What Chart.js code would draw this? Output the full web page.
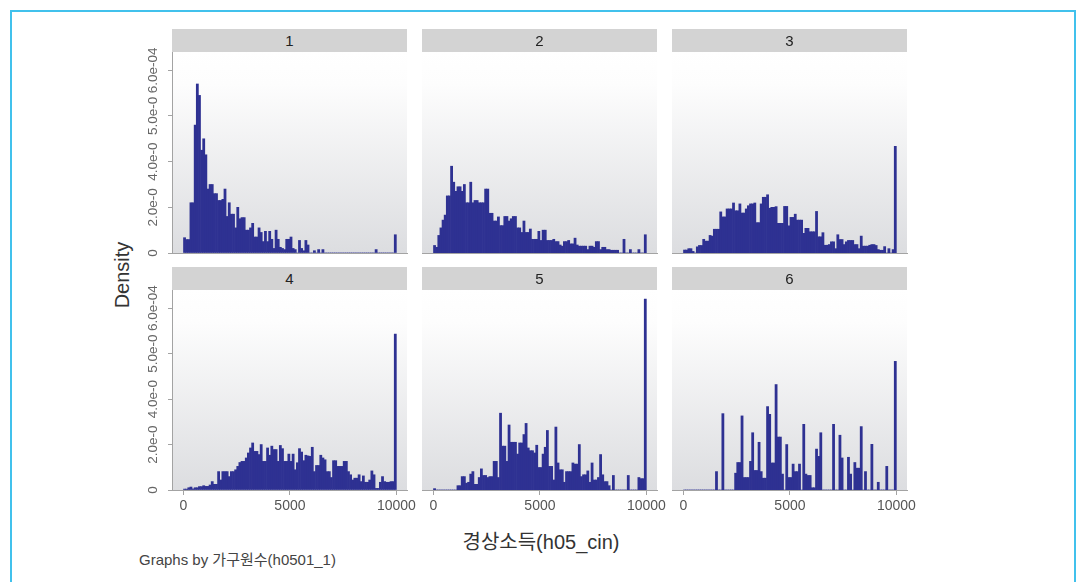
<!DOCTYPE html>
<html>
<head>
<meta charset="utf-8">
<script src="https://cdn.jsdelivr.net/npm/chart.js@4.4.1/dist/chart.umd.min.js"></script>
<style>
  body { margin: 0; background: #fff; width: 1077px; height: 582px; overflow: hidden; position: relative;
         font-family: "Liberation Sans", "Noto Sans CJK KR", sans-serif; }
  .frame { position: absolute; left: 10px; top: 10px; width: 1062px; height: 620px; border: 2px solid #41c1ec; }
  .strip { position: absolute; width: 235px; height: 23px; background: #d3d3d3; color: #222;
           font-size: 15px; line-height: 23px; text-align: center; }
  canvas { position: absolute; }
  .ytitle { position: absolute; left: 122px; top: 275px; transform: translate(-50%, -50%) rotate(-90deg);
            font-size: 20px; color: #333; white-space: nowrap; }
  .xtitle { position: absolute; left: 541px; top: 540px; transform: translate(-50%, -50%);
            font-size: 20px; color: #333; white-space: nowrap; }
  .note { position: absolute; left: 139px; top: 548px; font-size: 15px; color: #444; white-space: nowrap; }
</style>
</head>
<body>
<div class="frame"></div>
<div class="ytitle">Density</div>
<div class="xtitle">경상소득(h05_cin)</div>
<div class="note">Graphs by 가구원수(h0501_1)</div>

<canvas id="c1" width="298" height="227" style="left:130px;top:32px;width:298px;height:227px"></canvas>
<canvas id="c2" width="266" height="207" style="left:412px;top:52px;width:266px;height:207px"></canvas>
<canvas id="c3" width="266" height="207" style="left:662px;top:52px;width:266px;height:207px"></canvas>
<canvas id="c4" width="298" height="250" style="left:130px;top:270px;width:298px;height:250px"></canvas>
<canvas id="c5" width="266" height="230" style="left:412px;top:290px;width:266px;height:230px"></canvas>
<canvas id="c6" width="266" height="230" style="left:662px;top:290px;width:266px;height:230px"></canvas>

<script>
// 히스토그램 데이터 (density, 1e-4 단위), 구간 폭 100
const panelNames = ['1', '2', '3', '4', '5', '6'];
const binCenters = Array.from({ length: 100 }, (_, i) => 50 + 100 * i);
const xTicks = [0, 5000, 10000];
const xTickLabels = ['0', '5000', '10000'];
const yTicks = [0, 2, 4, 6, 8];
const yTickLabels = ['0', '2.0e-0', '4.0e-0', '5.0e-0', '6.0e-04'];

const panel1 = [0.67,0.59,0.59,2.2,2.2,5.6,7.4,6.9,4.5,5.0,
  4.3,2.8,3.0,3.0,2.6,2.6,2.3,2.3,2.35,2.8,
  1.6,2.2,1.7,1.7,1.1,2.0,1.5,1.55,1.55,1.0,
  1.0,1.1,1.3,0.7,0.7,1.1,0.9,0.5,0.95,0.5,
  0.95,0.6,0.2,1.0,0.6,0.25,0.2,0.15,0.6,0.6,
  0.7,0.2,0.15,0,0.55,0.2,0.1,0.55,0.35,0,
  0,0.1,0,0.15,0,0.15,0,0,0,0,
  0,0,0,0,0,0,0,0,0,0,
  0,0,0,0,0,0,0,0,0,0,
  0.15,0,0,0,0,0,0,0,0,0.8];
const panel2 = [0.33,0.25,0.77,1.1,1.44,1.66,2.5,2.5,3.8,3.1,
  2.7,2.9,2.9,2.7,3.0,2.2,2.2,3.1,2.2,2.3,
  2.3,2.2,2.2,2.2,2.8,2.8,1.74,1.74,1.4,1.4,
  1.58,1.2,1.2,1.6,1.6,1.4,1.5,1.6,1.6,1.1,
  1.1,0.9,1.4,0.9,0.9,1.05,0.6,0.6,0.6,0.95,
  0.55,1.0,1.0,0.55,0.55,0.55,0.6,0.5,0.5,0.35,
  0.3,0.5,0.5,0.55,0.4,0.4,0.65,0.35,0.3,0.3,
  0.3,0.3,0.15,0.3,0.3,0.25,0.5,0.5,0.15,0.25,
  0.25,0.15,0.15,0.12,0.12,0.12,0.12,0,0,0.6,
  0,0,0.15,0,0,0,0.15,0,0,0.8];
const panel3 = [0.13,0.13,0.19,0.19,0.07,0,0.27,0.33,0.33,0.6,
  0.52,0.52,0.77,0.74,1.04,1.04,1.04,1.8,1.58,1.58,
  1.93,1.93,1.93,2.19,1.85,1.85,2.15,1.75,1.75,1.93,
  2.07,2.15,2.15,2.19,1.33,1.33,2.15,2.44,2.44,2.55,
  1.96,2.0,2.0,2.03,1.3,1.3,1.3,2.04,2.04,1.19,
  1.56,1.56,1.7,1.44,1.44,1.44,0.86,1.08,1.08,0.93,
  0.93,0.93,1.82,0.71,0.71,0.89,0.34,0.34,0.37,0.49,
  0.49,0.19,0.8,0.59,0.59,0.37,0.49,0.55,0.55,0.55,
  0.37,0.37,0.19,0.74,0.3,0.3,0.3,0.34,0.37,0.37,
  0.33,0.15,0.12,0.12,0.28,0,0.19,0,0.15,4.67];
const panel4 = [0.04,0.04,0.1,0.13,0.05,0.1,0.1,0.15,0.15,0.19,
  0.16,0.16,0.22,0.37,0.25,0.25,0.81,0.44,0.81,0.81,
  0.81,0.59,0.81,0.81,0.89,1.04,1.21,1.26,1.26,1.41,
  1.63,1.85,2.07,1.7,1.7,1.56,2.0,1.26,1.26,1.85,
  1.53,1.93,1.78,1.78,1.26,1.96,1.82,1.26,1.26,1.58,
  1.26,1.58,0.89,1.2,1.82,1.67,1.29,1.53,1.5,1.48,
  1.88,0.81,1.08,1.08,1.53,1.41,1.33,0.81,0.81,0.55,
  1.29,1.29,1.04,1.04,1.04,1.26,1.26,0.81,0.67,0.44,
  0.52,0.52,0.67,0.37,0.62,0.34,0.34,0.44,0.84,0.67,
  0.07,0.07,0.34,0.59,0.37,0.34,0.34,0.37,0.37,6.86];
const panel5 = [0.06,0,0,0,0,0,0,0,0,0,
  0,0.19,0.19,0.59,0.59,0.3,0.34,0.7,0.81,0.25,
  0.25,0.55,0.93,0.64,0.64,0.55,0.59,0.59,1.26,1.26,
  0.55,3.38,1.93,1.93,1.26,2.86,2.1,2.1,2.1,1.58,
  2.07,2.07,2.44,2.93,1.85,1.73,1.73,1.63,1.97,0.99,
  0.99,1.58,1.88,2.62,1.04,1.04,0.44,2.77,1.19,0.89,
  0.89,0.34,0.81,0.81,0.81,1.19,1.14,1.14,2.0,0.59,
  0.67,0.67,0.84,0.34,1.19,0.44,0.44,0.55,1.56,0.67,
  0.37,0.37,0.19,0,0.64,0,0,0,0,0,
  0,0.64,0,0,0,0,0.55,0.5,0.5,8.4];
const panel6 = [0,0,0,0,0,0,0,0,0,0,
  0,0,0,0,0,0.81,0,0,3.36,0,
  0,0,0,0,0.74,1.21,1.21,3.26,0.55,0.55,
  0.55,1.26,2.52,0.86,0.86,2.1,0.81,0.52,0.52,3.67,
  3.33,1.19,1.19,4.64,2.33,2.33,0.7,0,2.0,0.55,
  0.55,1.14,0.81,0.81,1.14,0,2.89,0.7,0.64,0.64,
  0.1,0.1,1.8,1.48,2.52,0,0,0,0,0,
  2.89,0,0,2.41,1.41,0,0,1.44,0.7,0,
  1.21,0.96,0.96,2.79,0,0.81,0,0,2.01,0,
  0,0.34,0,0,0,1.04,0,0,0,5.66];

const panels = [panel1, panel2, panel3, panel4, panel5, panel6];
const barColor = '#2e3192';
const axisColor = '#a3a3a3';

// 스트립 헤더
const stripPos = [[172, 29], [422, 29], [672, 29], [172, 267], [422, 267], [672, 267]];
stripPos.forEach((p, i) => {
  const d = document.createElement('div');
  d.className = 'strip';
  d.style.left = p[0] + 'px';
  d.style.top = p[1] + 'px';
  d.textContent = panelNames[i];
  document.body.appendChild(d);
});

// 그림 영역 배경 그라데이션
const bgPlugin = {
  id: 'plotBg',
  beforeDraw(chart) {
    const a = chart.chartArea, ctx = chart.ctx;
    const g = ctx.createLinearGradient(0, a.top, 0, a.bottom);
    g.addColorStop(0, '#ffffff');
    g.addColorStop(0.16, '#fdfdfd');
    g.addColorStop(1, '#dcdde0');
    ctx.save();
    ctx.fillStyle = g;
    ctx.fillRect(a.left, a.top, a.right - a.left, a.bottom - a.top);
    ctx.restore();
  }
};

// 세로축 라벨 (회전)
const yLabelPlugin = {
  id: 'yLabels',
  afterDraw(chart) {
    if (!chart.options.plugins.yLabels || !chart.options.plugins.yLabels.show) return;
    const ctx = chart.ctx, sc = chart.scales.y;
    ctx.save();
    ctx.fillStyle = '#666';
    ctx.font = '13.5px "Liberation Sans", sans-serif';
    ctx.textAlign = 'center';
    ctx.textBaseline = 'middle';
    yTicks.forEach((v, i) => {
      const y = sc.getPixelForValue(v);
      ctx.save();
      ctx.translate(23, y);
      ctx.rotate(-Math.PI / 2);
      ctx.fillText(yTickLabels[i], 0, 0);
      ctx.restore();
    });
    ctx.restore();
  }
};

function makePanel(id, values, col, row) {
  const showY = col === 0;
  const showXLabels = row === 1;
  new Chart(document.getElementById(id), {
    type: 'bar',
    data: {
      datasets: [{
        data: binCenters.map((x, i) => ({ x: x, y: values[i] })),
        backgroundColor: barColor,
        borderWidth: 0,
        barPercentage: 1,
        categoryPercentage: 1
      }]
    },
    options: {
      responsive: false,
      animation: false,
      events: [],
      layout: { padding: { left: showY ? 0 : 10, right: 21, top: showY ? 20 : 0, bottom: 0 } },
      plugins: { legend: { display: false }, tooltip: { enabled: false }, yLabels: { show: showY } },
      scales: {
        x: {
          type: 'linear',
          offset: false,
          min: -540,
          max: 10500,
          afterBuildTicks: s => { s.ticks = xTicks.map(v => ({ value: v })); },
          afterFit: s => { s.height = showXLabels ? 30 : 6; s.paddingLeft = 0; s.paddingRight = 0; },
          border: { display: true, color: axisColor, width: 1 },
          grid: { display: showXLabels, offset: false, drawOnChartArea: false, drawTicks: true, tickLength: 5, color: axisColor },
          ticks: {
            display: showXLabels,
            autoSkip: false,
            maxRotation: 0,
            padding: 3,
            color: '#555',
            font: { family: '"Liberation Sans", sans-serif', size: 14 },
            callback: (v, i) => xTickLabels[i]
          }
        },
        y: {
          display: showY,
          min: 0,
          max: 8.8,
          afterBuildTicks: s => { s.ticks = yTicks.map(v => ({ value: v })); },
          afterFit: s => { s.width = showY ? 42 : 0; s.paddingTop = 0; s.paddingBottom = 0; },
          border: { display: true, color: axisColor, width: 1 },
          grid: { display: true, drawOnChartArea: false, drawTicks: true, tickLength: 4, color: axisColor },
          ticks: { display: false }
        }
      }
    },
    plugins: [bgPlugin, yLabelPlugin]
  });
}

['c1', 'c2', 'c3', 'c4', 'c5', 'c6'].forEach((id, i) => {
  makePanel(id, panels[i], i % 3, Math.floor(i / 3));
});
</script>
</body>
</html>
